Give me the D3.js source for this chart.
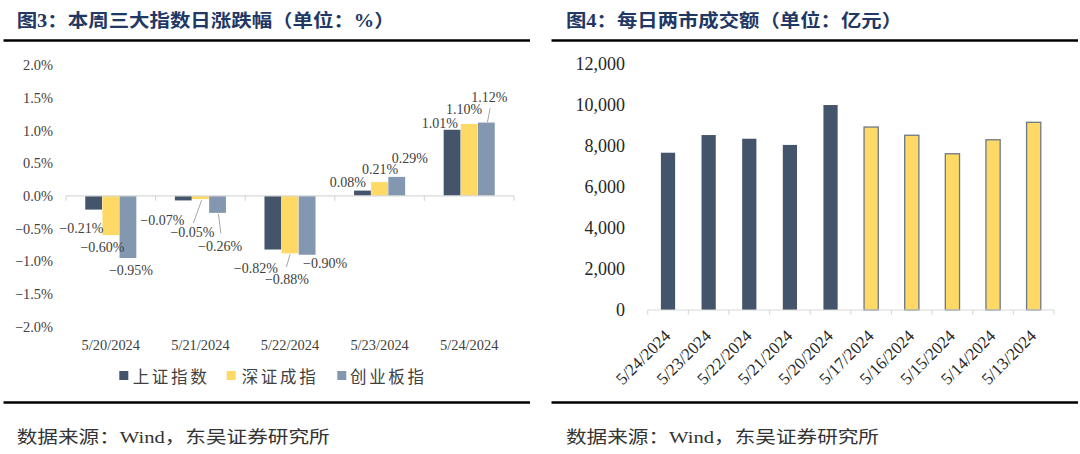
<!DOCTYPE html>
<html>
<head>
<meta charset="utf-8">
<script src="https://cdn.jsdelivr.net/npm/d3@7"></script>
<style>
  html, body { margin: 0; padding: 0; background: #ffffff; }
  svg { display: block; }
</style>
</head>
<body>
<svg id="chart" width="1080" height="454"></svg>
<script>
// ---------------- DATA ----------------
const dates = ["5/20/2024", "5/21/2024", "5/22/2024", "5/23/2024", "5/24/2024"];
const seriesNames = ["上证指数", "深证成指", "创业板指"];
const shChange = [-0.21, -0.07, -0.82, 0.08, 1.01];
const szChange = [-0.60, -0.05, -0.88, 0.21, 1.10];
const cybChange = [-0.95, -0.26, -0.90, 0.29, 1.12];
const pctTicks = [-2, -1.5, -1, -0.5, 0, 0.5, 1, 1.5, 2];

const turnoverDates = ["5/24/2024", "5/23/2024", "5/22/2024", "5/21/2024", "5/20/2024",
                       "5/17/2024", "5/16/2024", "5/15/2024", "5/14/2024", "5/13/2024"];
const turnover = [7650, 8510, 8330, 8030, 9970, 8900, 8500, 7600, 8280, 9130];
const turnoverWeek = ["this", "this", "this", "this", "this", "last", "last", "last", "last", "last"];
const turnoverTicks = [0, 2000, 4000, 6000, 8000, 10000, 12000];

const title1 = "图3：本周三大指数日涨跌幅（单位：%）";
const title2 = "图4：每日两市成交额（单位：亿元）";
const sourceText = "数据来源：Wind，东吴证券研究所";

// ---------------- STYLE / LAYOUT ----------------
const colors = ["#44546A", "#FFD966", "#8497B0"];
const weekColors = { "this": "#44546A", "last": "#FFD966" };
const titleColor = "#1F3864";
const textColor = "#404040";
const axisColor = "#D9D9D9";
const serif = "'Liberation Serif', 'Times New Roman', serif";
const mixed = "'Liberation Serif', 'Noto Sans CJK SC', serif";
const cjk = "'Noto Sans CJK SC', sans-serif";

// data-label offsets (px) relative to bar centre / bar end, per series, per date
const labelOffsets = [
  [[-12.3, 19.3], [-20.9, 19.6], [-17, 18.8], [-14.6, -8.3], [-12.2, -6.5]],
  [[-8.3, 12.6], [-7.9, 33], [-3, 25.9], [0.4, -12.8], [-5.2, -13.9]],
  [[3, 12.7], [2.6, 33.8], [18, 8.6], [13, -18.6], [3, -25.3]]
];
// leader lines: [series, dateIndex, [x1off,y1off], [x2off,y2off]] relative to bar centre / bar end
const leaders = [
  [1, 1, [1.3, 1], [-7.1, 24]],
  [2, 1, [0.9, 1], [3.3, 20.4]],
  [1, 2, [0, 1], [-3.5, 13.5]],
  [2, 4, [3.8, -14.3], [1.1, -0.3]]
];

const svg = d3.select("#chart");

// ---------- frame: titles, rules, sources ----------
function panelFrame(x0, x1, title, titleX, titleLen, srcX) {
  svg.append("text")
    .attr("x", titleX).attr("y", 20.5)
    .attr("dominant-baseline", "central")
    .attr("font-family", mixed)
    .attr("font-weight", "bold")
    .attr("font-size", 18)
    .attr("fill", titleColor)
    .attr("textLength", titleLen)
    .attr("lengthAdjust", "spacingAndGlyphs")
    .text(title);
  svg.append("line").attr("x1", x0).attr("x2", x1).attr("y1", 40.5).attr("y2", 40.5)
    .attr("stroke", "#000").attr("stroke-width", 2.4);
  svg.append("line").attr("x1", x0).attr("x2", x1).attr("y1", 402.5).attr("y2", 402.5)
    .attr("stroke", "#000").attr("stroke-width", 2.4);
  svg.append("text")
    .attr("x", srcX).attr("y", 437)
    .attr("dominant-baseline", "central")
    .attr("font-family", mixed)
    .attr("font-size", 17.5)
    .attr("fill", "#333333")
    .attr("textLength", 313)
    .attr("lengthAdjust", "spacingAndGlyphs")
    .text(sourceText);
}
panelFrame(3.5, 530, title1, 16.7, 378, 16.7);
panelFrame(551.5, 1078, title2, 566, 336, 566);

// ---------------- LEFT CHART ----------------
const allSeries = [shChange, szChange, cybChange];
const xL = d3.scaleBand().domain(dates).range([66, 514]).paddingInner(0).paddingOuter(0);
const groupW = xL.bandwidth() * 0.57;
const xL1 = d3.scaleBand().domain(d3.range(seriesNames.length)).range([0, groupW]).paddingInner(0.02);
const yL = d3.scaleLinear().domain([-2, 2]).range([326.7, 65]);

// y axis labels
const yAxisL = d3.axisLeft(yL).tickValues(pctTicks).tickSize(0).tickPadding(0)
  .tickFormat(d => d3.format(".1f")(d) + "%");
svg.append("g").attr("transform", "translate(53,0)").call(yAxisL)
  .call(g => g.select(".domain").remove())
  .selectAll("text")
  .attr("font-family", serif).attr("font-size", 14.4).attr("fill", textColor);

// bars
const gL = svg.append("g");
dates.forEach((d, i) => {
  allSeries.forEach((s, k) => {
    const v = s[i];
    const x = xL(d) + (xL.bandwidth() - groupW) / 2 + xL1(k);
    gL.append("rect")
      .attr("x", x)
      .attr("width", xL1.bandwidth())
      .attr("y", Math.min(yL(v), yL(0)))
      .attr("height", Math.abs(yL(v) - yL(0)))
      .attr("fill", colors[k]);
  });
});

// x axis line at zero + boundary ticks
svg.append("line").attr("x1", xL.range()[0]).attr("x2", xL.range()[1])
  .attr("y1", yL(0)).attr("y2", yL(0)).attr("stroke", axisColor).attr("stroke-width", 1.2);
const boundsL = dates.map(d => xL(d)).concat([xL.range()[1]]);
boundsL.forEach(b => {
  svg.append("line").attr("x1", b).attr("x2", b).attr("y1", yL(0)).attr("y2", yL(0) + 5)
    .attr("stroke", axisColor).attr("stroke-width", 1.2);
});

// x labels (low position)
const xAxisL = d3.axisBottom(xL).tickSize(0).tickPadding(0);
svg.append("g").attr("transform", "translate(0,345.3)").call(xAxisL)
  .call(g => g.select(".domain").remove())
  .selectAll("text")
  .attr("dy", null).attr("y", 0)
  .attr("dominant-baseline", "central")
  .attr("font-family", serif).attr("font-size", 14.4).attr("fill", textColor);

// leader lines
leaders.forEach(([k, i, p1, p2]) => {
  const cx = xL(dates[i]) + (xL.bandwidth() - groupW) / 2 + xL1(k) + xL1.bandwidth() / 2;
  const ey = yL(allSeries[k][i]);
  svg.append("line")
    .attr("x1", cx + p1[0]).attr("y1", ey + p1[1])
    .attr("x2", cx + p2[0]).attr("y2", ey + p2[1])
    .attr("stroke", "#A6A6A6").attr("stroke-width", 1);
});

// data labels
dates.forEach((d, i) => {
  allSeries.forEach((s, k) => {
    const v = s[i];
    const cx = xL(d) + (xL.bandwidth() - groupW) / 2 + xL1(k) + xL1.bandwidth() / 2;
    const off = labelOffsets[k][i];
    svg.append("text")
      .attr("x", cx + off[0]).attr("y", yL(v) + off[1])
      .attr("text-anchor", "middle").attr("dominant-baseline", "central")
      .attr("font-family", serif).attr("font-size", 14).attr("fill", textColor)
      .text(d3.format(".2f")(v) + "%");
  });
});

// legend
const legendItems = [
  { name: seriesNames[0], sx: 119.3, tx: 132.7 },
  { name: seriesNames[1], sx: 226.7, tx: 241.7 },
  { name: seriesNames[2], sx: 337.3, tx: 350 }
];
legendItems.forEach((it, k) => {
  svg.append("rect").attr("x", it.sx).attr("y", 371).attr("width", 9).attr("height", 9)
    .attr("fill", colors[k]);
  svg.append("text").attr("x", it.tx).attr("y", 375.5)
    .attr("dominant-baseline", "central")
    .attr("font-family", cjk).attr("font-size", 16.5).attr("fill", textColor)
    .attr("textLength", 74).attr("lengthAdjust", "spacing")
    .text(it.name);
});

// ---------------- RIGHT CHART ----------------
const xR = d3.scaleBand().domain(turnoverDates).range([647.7, 1054]).paddingInner(0).paddingOuter(0);
const yR = d3.scaleLinear().domain([0, 12000]).range([310, 63.3]);
const barW = xR.bandwidth() * 0.35;

const yAxisR = d3.axisLeft(yR).tickValues(turnoverTicks).tickSize(0).tickPadding(0)
  .tickFormat(d3.format(","));
svg.append("g").attr("transform", "translate(625,0)").call(yAxisR)
  .call(g => g.select(".domain").remove())
  .selectAll("text")
  .attr("font-family", serif).attr("font-size", 18).attr("fill", "#262626");

turnoverDates.forEach((d, i) => {
  const wk = turnoverWeek[i];
  svg.append("rect")
    .attr("x", xR(d) + (xR.bandwidth() - barW) / 2)
    .attr("width", barW)
    .attr("y", yR(turnover[i]))
    .attr("height", yR(0) - yR(turnover[i]))
    .attr("fill", weekColors[wk])
    .attr("stroke", wk === "last" ? "#6D7888" : "none")
    .attr("stroke-width", 1.3);
});

svg.append("line").attr("x1", xR.range()[0]).attr("x2", xR.range()[1])
  .attr("y1", yR(0)).attr("y2", yR(0)).attr("stroke", axisColor).attr("stroke-width", 1.2);
const boundsR = turnoverDates.map(d => xR(d)).concat([xR.range()[1]]);
boundsR.forEach(b => {
  svg.append("line").attr("x1", b).attr("x2", b).attr("y1", yR(0)).attr("y2", yR(0) + 4.5)
    .attr("stroke", axisColor).attr("stroke-width", 1.2);
});

const xAxisR = d3.axisBottom(xR).tickSize(0).tickPadding(0);
svg.append("g").attr("transform", "translate(0,0)").call(xAxisR)
  .call(g => g.select(".domain").remove())
  .selectAll(".tick").attr("transform", d => `translate(${xR(d) + xR.bandwidth() / 2 + 3.5},337) rotate(-45)`)
  .select("text")
  .attr("dy", null).attr("y", 0).attr("x", 0)
  .attr("text-anchor", "end")
  .attr("font-family", serif).attr("font-size", 17).attr("fill", "#262626");
</script>
</body>
</html>
